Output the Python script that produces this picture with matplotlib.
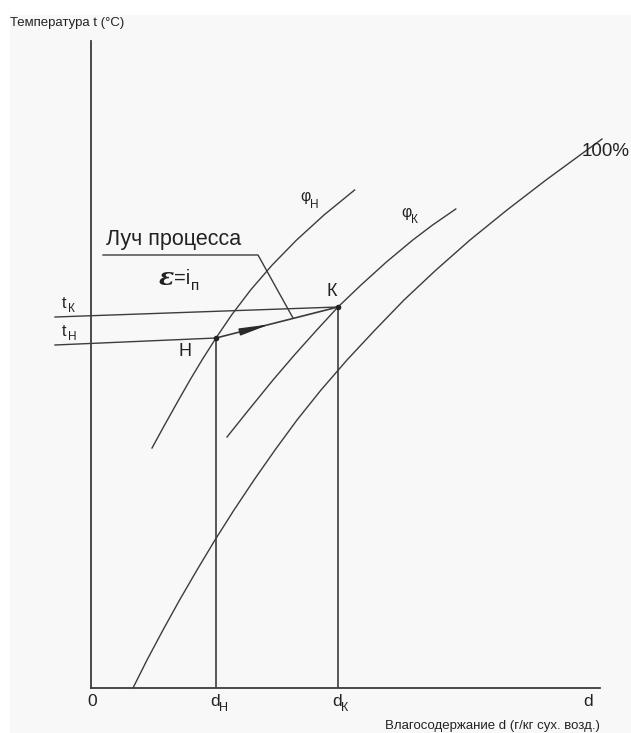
import matplotlib
matplotlib.use("Agg")
import matplotlib.pyplot as plt
from matplotlib.patches import Rectangle

plt.rcParams['font.family'] = ['Liberation Sans', 'DejaVu Sans']

# Schematic d-t (moisture content / temperature) diagram, arbitrary units
D_MAX, T_MAX = 25.45, 64.7

# Saturation line (phi = 100%)
sat_d = [2.10, 2.80, 3.60, 4.43, 5.30, 6.20, 7.15, 8.15, 9.20, 10.30, 11.50,
         12.80, 14.20, 15.65, 17.25, 18.95, 20.80, 22.75, 24.80, 25.55]
sat_t = [0.0, 2.8, 5.8, 8.8, 11.8, 14.8, 17.8, 20.8, 23.8, 26.8, 29.8,
         32.8, 35.8, 38.8, 41.8, 44.8, 47.8, 50.8, 53.8, 54.9]

# Relative humidity line through the initial state H
phiH_d = [3.05, 3.68, 4.38, 4.95, 5.55, 6.25, 7.03, 7.98, 9.06, 10.28, 11.65, 13.18]
phiH_t = [24.0, 26.3, 28.8, 30.8, 32.8, 35.0, 37.3, 39.8, 42.3, 44.8, 47.3, 49.8]

# Relative humidity line through the final state K
phiK_d = [6.80, 7.88, 9.10, 10.17, 11.29, 12.35, 13.50, 14.77, 16.09, 17.08, 18.24]
phiK_t = [25.1, 27.8, 30.8, 33.3, 35.8, 38.1, 40.3, 42.6, 44.8, 46.3, 47.9]

# State points
H = (6.25, 35.0)
K = (12.35, 38.1)

# Isotherm start points (left of the temperature axis)
iso_start_d = -1.8
tH_start = 34.3
tK_start = 37.1

# Leader line for the "process ray" caption
leader_d = [0.6, 8.35, 10.1]
leader_t = [43.3, 43.3, 37.0]

LINE = '#3c3c3c'
TXT = '#222222'

fig = plt.figure(figsize=(6.31, 7.33), dpi=100, facecolor='white')
fig.patches.append(Rectangle((10 / 631, 0), 1, 1 - 15 / 733, transform=fig.transFigure,
                             facecolor='#f8f8f8', edgecolor='none', zorder=-10))

ax = fig.add_axes([91 / 631, 45 / 733, 509 / 631, 647 / 733])
ax.set_xlim(0, D_MAX)
ax.set_ylim(0, T_MAX)
ax.patch.set_alpha(0)
for s in ('top', 'right'):
    ax.spines[s].set_visible(False)
for s in ('left', 'bottom'):
    ax.spines[s].set_color(LINE)
    ax.spines[s].set_linewidth(1.3)
ax.set_xticks([])
ax.set_yticks([])

lw = 1.0
ax.plot(sat_d, sat_t, color=LINE, lw=lw, clip_on=False)
ax.plot(phiH_d, phiH_t, color=LINE, lw=lw)
ax.plot(phiK_d, phiK_t, color=LINE, lw=lw)

# Isotherms through H and K
ax.plot([iso_start_d, H[0]], [tH_start, H[1]], color=LINE, lw=lw, clip_on=False)
ax.plot([iso_start_d, K[0]], [tK_start, K[1]], color=LINE, lw=lw, clip_on=False)

# Constant moisture content lines down to the d axis
ax.plot([H[0], H[0]], [0, H[1]], color=LINE, lw=1.2)
ax.plot([K[0], K[0]], [0, K[1]], color=LINE, lw=1.2)

# Process ray H -> K
ax.plot([H[0], K[0]], [H[1], K[1]], color=LINE, lw=1.2)
frac0, frac1 = 0.28, 0.44
tail = (H[0] + frac0 * (K[0] - H[0]), H[1] + frac0 * (K[1] - H[1]))
tip = (H[0] + frac1 * (K[0] - H[0]), H[1] + frac1 * (K[1] - H[1]))
ax.annotate('', xy=tip, xytext=tail,
            arrowprops=dict(arrowstyle='-|>,head_length=1.5,head_width=0.18',
                            color='#2a2a2a', lw=1.0, shrinkA=0, shrinkB=0,
                            mutation_scale=12))
ax.plot([H[0], K[0]], [H[1], K[1]], 'o', color='#222222', ms=3)

ax.plot(leader_d, leader_t, color=LINE, lw=1.0)


def sub_label(x, y, base, sub, size=12, subsize=8.5, dx=None, dy=-5):
    ax.text(x, y, base, fontsize=size, color=TXT, ha='left', va='center', clip_on=False)
    t = ax.annotate(sub, xy=(x, y), xytext=(dx if dx is not None else size * 0.55, dy),
                    textcoords='offset points', fontsize=subsize, color=TXT,
                    ha='left', va='center', annotation_clip=False)
    return t


ax.text(0.75, 44.8, 'Луч процесса', fontsize=15.5, color=TXT, ha='left', va='center')
ax.text(3.4, 41.0, 'ε', fontsize=18, fontweight='bold', fontstyle='italic',
        color=TXT, ha='left', va='center', family='DejaVu Serif')
ax.text(4.15, 41.0, '=i', fontsize=14.5, color=TXT, ha='left', va='center')
ax.text(4.98, 40.2, 'п', fontsize=11, color=TXT, ha='left', va='center')

sub_label(-1.45, 38.5, 't', 'К', size=11.5, dx=4.5, dy=-4)
sub_label(-1.45, 35.7, 't', 'Н', size=11.5, dx=4.5, dy=-4)

ax.text(K[0] - 0.3, 39.6, 'К', fontsize=13, color=TXT, ha='center', va='center')
ax.text(H[0] - 1.55, 33.6, 'Н', fontsize=13, color=TXT, ha='center', va='center')

sub_label(10.45, 49.1, 'φ', 'Н', size=11.5, dx=7, dy=-6)
sub_label(15.5, 47.6, 'φ', 'К', size=11.5, dx=7, dy=-6)

ax.text(24.55, 53.6, '100%', fontsize=13.5, color=TXT, ha='left', va='center', clip_on=False)

ax.text(0.05, -1.3, '0', fontsize=12.5, color=TXT, ha='center', va='center', clip_on=False)
sub_label(H[0] - 0.3, -1.3, 'd', 'Н', size=12.5, subsize=9, dx=6.5, dy=-5)
sub_label(K[0] - 0.3, -1.3, 'd', 'К', size=12.5, subsize=9, dx=6.5, dy=-5)
ax.text(24.85, -1.3, 'd', fontsize=12.5, color=TXT, ha='center', va='center', clip_on=False)

fig.text(10 / 631, 1 - 23 / 733, 'Температура t (°C)', fontsize=9.5, color=TXT,
         ha='left', va='center')
fig.text(600 / 631, 1 - 726 / 733, 'Влагосодержание d (г/кг сух. возд.)', fontsize=9.5,
         color=TXT, ha='right', va='center')

fig.savefig('out.png', dpi=100, facecolor=fig.get_facecolor())
